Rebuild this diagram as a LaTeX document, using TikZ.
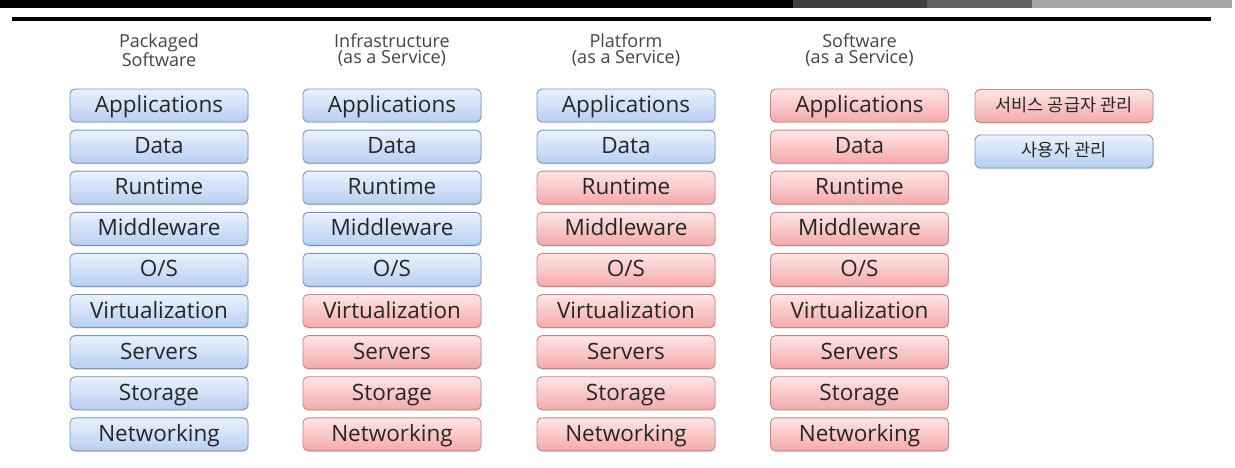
\documentclass[tikz,border=0pt]{standalone}
\usepackage{fontspec}
\setmainfont{Open Sans}
\newfontfamily\krfont{Noto Sans CJK KR}
\usepackage{tikz}
\usetikzlibrary{shadows}
\definecolor{userblue}{HTML}{7896C4}
\definecolor{usertop}{HTML}{EAF2FD}
\definecolor{userbot}{HTML}{B7CFF1}
\definecolor{provred}{HTML}{CC8585}
\definecolor{provtop}{HTML}{FDE6E6}
\definecolor{provbot}{HTML}{F5A9A9}
\definecolor{headgray}{HTML}{444444}

\begin{document}
\begin{tikzpicture}[x=1pt,y=-1pt]
							\tikzstyle{layer}=[rectangle,rounded corners=5pt,minimum width=178pt,minimum height=33pt,inner sep=0pt,text height=16pt,text depth=2pt,line width=0.9pt,text=black!85,font=\fontsize{22.5}{22.5}\selectfont,drop shadow={shadow xshift=0.6pt,shadow yshift=-1.2pt,opacity=0.25}]
							\tikzstyle{user}=[layer,draw=userblue,top color=usertop,bottom color=userbot]
							\tikzstyle{prov}=[layer,draw=provred,top color=provtop,bottom color=provbot]
							\tikzstyle{head}=[align=center,text=headgray,font=\fontsize{18}{16.5}\selectfont]
							\tikzstyle{legend}=[font=\krfont\fontsize{17.5}{17.5}\selectfont,text height=13pt,text depth=2pt]
							\useasboundingbox (0,0) rectangle (1235,468);
							% top rule
							\fill[black] (0,0) rectangle (793,8.5);
							\fill[black!75] (793,0) rectangle (927,8.5);
							\fill[black!62] (927,0) rectangle (1032,8.5);
							\fill[black!35] (1032,0) rectangle (1232,8.5);
							\fill[black] (12,17) rectangle (1211,21);
							% headings
							\node[head] (h1) at (159,50) {Packaged\\Software};
							\node[head] (h2) at (392,50) {Infrastructure\\(as a Service)};
							\node[head] (h3) at (626,50) {Platform\\(as a Service)};
							\node[head] (h4) at (859.5,50) {Software\\(as a Service)};
							% packaged software
							\node[user] (p1) at (159,105.5) {Applications};
							\node[user] (p2) at (159,146.6) {Data};
							\node[user] (p3) at (159,187.7) {Runtime};
							\node[user] (p4) at (159,228.8) {Middleware};
							\node[user] (p5) at (159,269.9) {O/S};
							\node[user] (p6) at (159,311) {Virtualization};
							\node[user] (p7) at (159,352.1) {Servers};
							\node[user] (p8) at (159,393.2) {Storage};
							\node[user] (p9) at (159,434.3) {Networking};
							% infrastructure
							\node[user] (i1) at (392,105.5) {Applications};
							\node[user] (i2) at (392,146.6) {Data};
							\node[user] (i3) at (392,187.7) {Runtime};
							\node[user] (i4) at (392,228.8) {Middleware};
							\node[user] (i5) at (392,269.9) {O/S};
							\node[prov] (i6) at (392,311) {Virtualization};
							\node[prov] (i7) at (392,352.1) {Servers};
							\node[prov] (i8) at (392,393.2) {Storage};
							\node[prov] (i9) at (392,434.3) {Networking};
							% platform
							\node[user] (f1) at (626,105.5) {Applications};
							\node[user] (f2) at (626,146.6) {Data};
							\node[prov] (f3) at (626,187.7) {Runtime};
							\node[prov] (f4) at (626,228.8) {Middleware};
							\node[prov] (f5) at (626,269.9) {O/S};
							\node[prov] (f6) at (626,311) {Virtualization};
							\node[prov] (f7) at (626,352.1) {Servers};
							\node[prov] (f8) at (626,393.2) {Storage};
							\node[prov] (f9) at (626,434.3) {Networking};
							% software
							\node[prov] (s1) at (859.5,105.5) {Applications};
							\node[prov] (s2) at (859.5,146.6) {Data};
							\node[prov] (s3) at (859.5,187.7) {Runtime};
							\node[prov] (s4) at (859.5,228.8) {Middleware};
							\node[prov] (s5) at (859.5,269.9) {O/S};
							\node[prov] (s6) at (859.5,311) {Virtualization};
							\node[prov] (s7) at (859.5,352.1) {Servers};
							\node[prov] (s8) at (859.5,393.2) {Storage};
							\node[prov] (s9) at (859.5,434.3) {Networking};
							% legend
							\node[prov,legend] (l1) at (1064,106) {서비스 공급자 관리};
							\node[user,legend] (l2) at (1064,151.5) {사용자 관리};
							\end{tikzpicture}
\end{document}
